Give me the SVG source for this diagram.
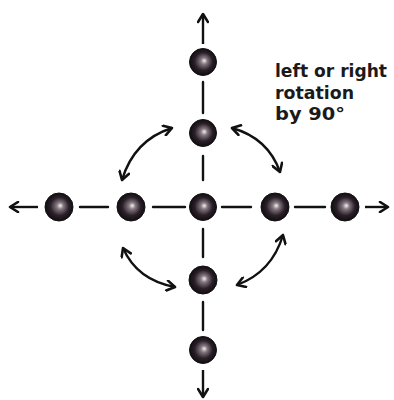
<svg xmlns="http://www.w3.org/2000/svg" width="394" height="400" viewBox="0 0 394 400">
<defs>
<radialGradient id="ball" cx="0.5" cy="0.5" r="0.55" fx="0.55" fy="0.45">
<stop offset="0" stop-color="#f4f0f0"/>
<stop offset="0.22" stop-color="#857880"/>
<stop offset="0.6" stop-color="#2a1f28"/>
<stop offset="1" stop-color="#0a080a"/>
</radialGradient>
<marker id="ah" viewBox="0 0 12 12" refX="10" refY="6" markerWidth="12" markerHeight="12" markerUnits="userSpaceOnUse" orient="auto-start-reverse">
<path d="M2,1 L10,6 L2,11" fill="none" stroke="#111" stroke-width="2.6" stroke-linecap="round" stroke-linejoin="round"/>
</marker>
</defs>
<style>
.ln{stroke:#111;stroke-width:2.4;fill:none;stroke-linecap:round}
.ar{stroke:#111;stroke-width:2.4;fill:none;marker-end:url(#ah)}
.da{stroke:#111;stroke-width:2.4;fill:none;marker-start:url(#ah);marker-end:url(#ah)}
.b{fill:url(#ball);stroke:#111;stroke-width:1}
.t{font-family:"DejaVu Sans","Liberation Sans",sans-serif;font-weight:bold;font-size:18px;fill:#1a1a1a}
</style>
<g id="connectors">
<path class="ar" d="M203,44 L203,14"/>
<path class="ln" d="M203,82 L203,113"/>
<path class="ln" d="M203,156 L203,180"/>
<path class="ln" d="M203,229 L203,257"/>
<path class="ln" d="M203,302 L203,330"/>
<path class="ar" d="M203,370 L203,397"/>
<path class="ar" d="M38,207 L10,207"/>
<path class="ln" d="M80,207 L108,207"/>
<path class="ln" d="M153,207 L185,207"/>
<path class="ln" d="M222,207 L251,207"/>
<path class="ln" d="M295,207 L325,207"/>
<path class="ar" d="M365,207 L388,207"/>
<path class="da" d="M122,180 Q134,140 172,128"/>
<path class="da" d="M232,128 Q268,138 280,172"/>
<path class="da" d="M123,248 Q137,280 175,287"/>
<path class="da" d="M237,285 Q272,272 283,235"/>
</g>
<g id="n-top"><circle class="b" cx="203" cy="62" r="13.5"/></g>
<g id="n-up"><circle class="b" cx="203" cy="133" r="13.5"/></g>
<g id="n-center"><circle class="b" cx="203" cy="207" r="13.5"/></g>
<g id="n-left-in"><circle class="b" cx="131" cy="207" r="14"/></g>
<g id="n-left-out"><circle class="b" cx="59" cy="207" r="14"/></g>
<g id="n-right-in"><circle class="b" cx="275" cy="207" r="14"/></g>
<g id="n-right-out"><circle class="b" cx="345" cy="207" r="14"/></g>
<g id="n-down"><circle class="b" cx="203" cy="280" r="14"/></g>
<g id="n-bottom"><circle class="b" cx="203" cy="350" r="13.5"/></g>
<g id="label">
<text class="t" x="275" y="77" textLength="112" lengthAdjust="spacingAndGlyphs">left or right</text>
<text class="t" x="275" y="99" textLength="79" lengthAdjust="spacingAndGlyphs">rotation</text>
<text class="t" x="275" y="120" textLength="70" lengthAdjust="spacingAndGlyphs">by 90°</text>
</g>
</svg>
